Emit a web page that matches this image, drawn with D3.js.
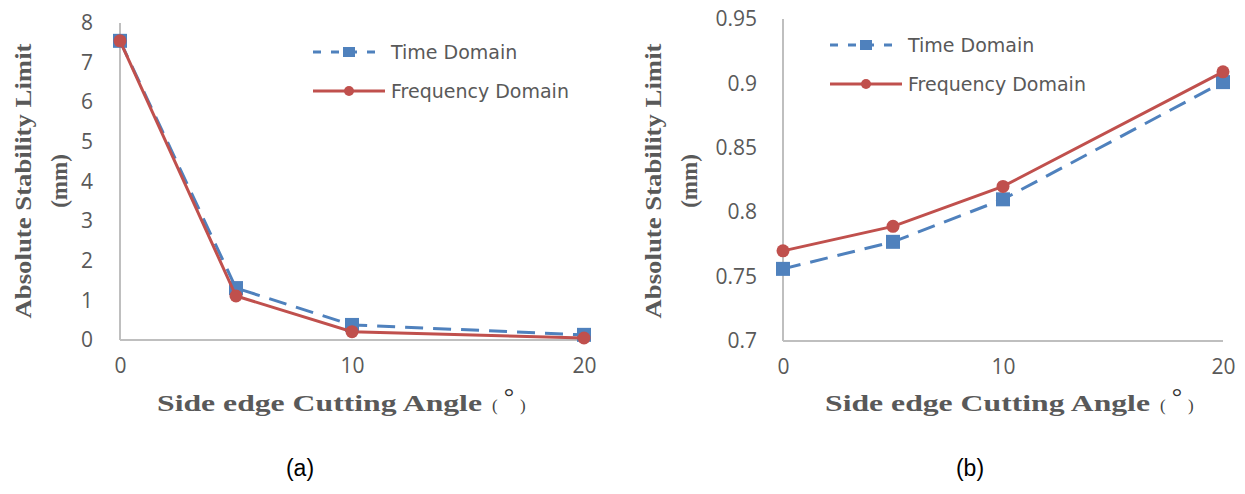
<!DOCTYPE html>
<html>
<head>
<meta charset="utf-8">
<script src="https://cdn.jsdelivr.net/npm/d3@7/dist/d3.min.js"></script>
<style>
  html, body { margin: 0; padding: 0; background: #ffffff; }
  svg { display: block; }
</style>
</head>
<body>
<svg id="chart" width="1245" height="494"></svg>
<script>
// Side edge cutting angle (degrees) for each measurement
const angles = [0, 5, 10, 20];

// Panel (a): absolute stability limit (mm)
const timeA = [7.55, 1.31, 0.38, 0.13];
const freqA = [7.55, 1.11, 0.21, 0.05];

// Panel (b): absolute stability limit (mm)
const timeB = [0.756, 0.777, 0.81, 0.901];
const freqB = [0.77, 0.789, 0.82, 0.909];

// Axis tick values
const xTicks = [0, 10, 20];
const yTicksA = [0, 1, 2, 3, 4, 5, 6, 7, 8];
const yTicksB = [0.7, 0.75, 0.8, 0.85, 0.9, 0.95];

const seriesNames = ["Time Domain", "Frequency Domain"];
const yTitleLines = ["Absolute Stability Limit", "(mm)"];
const xTitle = "Side edge Cutting Angle";
const panelLabels = ["(a)", "(b)"];

const BLUE = "#4f81bd";
const RED = "#c0504d";
const AXIS = "#bfbfbf";
const TEXT = "#595959";

const svg = d3.select("#chart");

function drawPanel(opt) {
  const g = svg.append("g");
  const x = d3.scaleLinear().domain([0, 20]).range([opt.x0, opt.x1]);
  const y = d3.scaleLinear().domain(opt.yDomain).range([opt.y0, opt.y1]);

  // axes (lines only, no tick marks)
  const yAxis = d3.axisLeft(y).tickValues(opt.yTicks).tickSize(0).tickPadding(opt.yPad)
    .tickFormat(d => d3.format("~g")(d));
  const yg = g.append("g").attr("transform", `translate(${opt.x0},0)`).call(yAxis);
  yg.select(".domain").attr("stroke", AXIS).attr("stroke-width", 2).attr("d", `M0,${opt.y0}V${opt.y1}`);
  yg.selectAll("text").attr("fill", TEXT).attr("font-family", "Open Sans, Noto Sans, sans-serif").attr("font-size", 21);

  const xAxis = d3.axisBottom(x).tickValues(xTicks).tickSize(0).tickPadding(18);
  const xg = g.append("g").attr("transform", `translate(0,${opt.y0})`).call(xAxis);
  xg.select(".domain").attr("stroke", AXIS).attr("stroke-width", 2).attr("d", `M${opt.x0},0H${opt.x1}`);
  xg.selectAll("text").attr("fill", TEXT).attr("font-family", "Open Sans, Noto Sans, sans-serif").attr("font-size", 21);

  const line = d3.line().x((d, i) => x(angles[i])).y(d => y(d));

  // time domain: dashed blue with square markers
  g.append("path").datum(opt.time).attr("d", line)
    .attr("fill", "none").attr("stroke", BLUE).attr("stroke-width", 3)
    .attr("stroke-dasharray", "18,10");
  g.selectAll("rect.pt").data(opt.time).enter().append("rect")
    .attr("x", (d, i) => x(angles[i]) - 7).attr("y", d => y(d) - 7)
    .attr("width", 14).attr("height", 14).attr("fill", BLUE);

  // frequency domain: solid red with circle markers
  g.append("path").datum(opt.freq).attr("d", line)
    .attr("fill", "none").attr("stroke", RED).attr("stroke-width", 3);
  g.selectAll("circle.pt").data(opt.freq).enter().append("circle")
    .attr("cx", (d, i) => x(angles[i])).attr("cy", d => y(d))
    .attr("r", 6.5).attr("fill", RED);

  // legend
  const lg = g.append("g");
  const items = [
    { name: seriesNames[0], color: BLUE, dash: "8,10", marker: "rect", yy: opt.legY },
    { name: seriesNames[1], color: RED, dash: null, marker: "circle", yy: opt.legY + 39 }
  ];
  items.forEach(it => {
    lg.append("line").attr("x1", opt.legX).attr("x2", opt.legX + 72)
      .attr("y1", it.yy).attr("y2", it.yy)
      .attr("stroke", it.color).attr("stroke-width", 3)
      .attr("stroke-dasharray", it.dash);
    if (it.marker === "rect") {
      lg.append("rect").attr("x", opt.legX + 36 - 6).attr("y", it.yy - 5)
        .attr("width", 12).attr("height", 10).attr("fill", it.color);
    } else {
      lg.append("circle").attr("cx", opt.legX + 36).attr("cy", it.yy).attr("r", 5).attr("fill", it.color);
    }
    lg.append("text").attr("x", opt.legX + 78).attr("y", it.yy).attr("dy", "0.35em")
      .attr("fill", TEXT).attr("font-family", "DejaVu Sans, Verdana, sans-serif")
      .attr("font-size", 19).text(it.name);
  });

  // y axis title (two lines, rotated)
  const yt = g.append("text")
    .attr("transform", `translate(${opt.yTitleX},${opt.yTitleY}) rotate(-90)`)
    .attr("text-anchor", "middle").attr("fill", TEXT)
    .attr("font-family", "Liberation Serif, serif").attr("font-weight", "bold").attr("font-size", 23);
  yt.append("tspan").attr("x", 0).attr("dy", "0.35em").attr("textLength", 275)
    .attr("lengthAdjust", "spacingAndGlyphs").text(yTitleLines[0]);
  yt.append("tspan").attr("x", 0).attr("dy", 36).text(yTitleLines[1]);

  // x axis title
  const xt = g.append("text").attr("x", opt.xTitleX).attr("y", opt.xTitleY)
    .attr("fill", TEXT).attr("font-family", "Liberation Serif, serif")
    .attr("font-weight", "bold").attr("font-size", 23);
  xt.append("tspan").attr("textLength", 325).attr("lengthAdjust", "spacingAndGlyphs").text(xTitle);
  xt.append("tspan").attr("dx", 10).attr("font-size", 17).attr("font-weight", "normal").attr("fill", "#444").text("(");
  xt.append("tspan").attr("dx", 6).attr("dy", -6).attr("font-size", 26).attr("font-weight", "normal").attr("fill", "#333").text("°");
  xt.append("tspan").attr("dx", 6).attr("dy", 6).attr("font-size", 17).attr("font-weight", "normal").attr("fill", "#444").text(")");

  // panel label
  g.append("text").attr("x", opt.labelX).attr("y", 476).attr("text-anchor", "middle")
    .attr("fill", "#000").attr("font-family", "Liberation Sans, Arial, sans-serif")
    .attr("font-size", 23).text(opt.label);
}

drawPanel({
  x0: 120, x1: 584, y0: 340, y1: 23,
  yDomain: [0, 8], yTicks: yTicksA, yPad: 27,
  time: timeA, freq: freqA,
  legX: 313, legY: 52,
  yTitleX: 23, yTitleY: 181,
  xTitleX: 157, xTitleY: 411,
  labelX: 300, label: panelLabels[0]
});

drawPanel({
  x0: 783, x1: 1223, y0: 341, y1: 19,
  yDomain: [0.7, 0.95], yTicks: yTicksB, yPad: 26,
  time: timeB, freq: freqB,
  legX: 830, legY: 45,
  yTitleX: 653, yTitleY: 181,
  xTitleX: 825, xTitleY: 411,
  labelX: 970, label: panelLabels[1]
});
</script>
</body>
</html>
